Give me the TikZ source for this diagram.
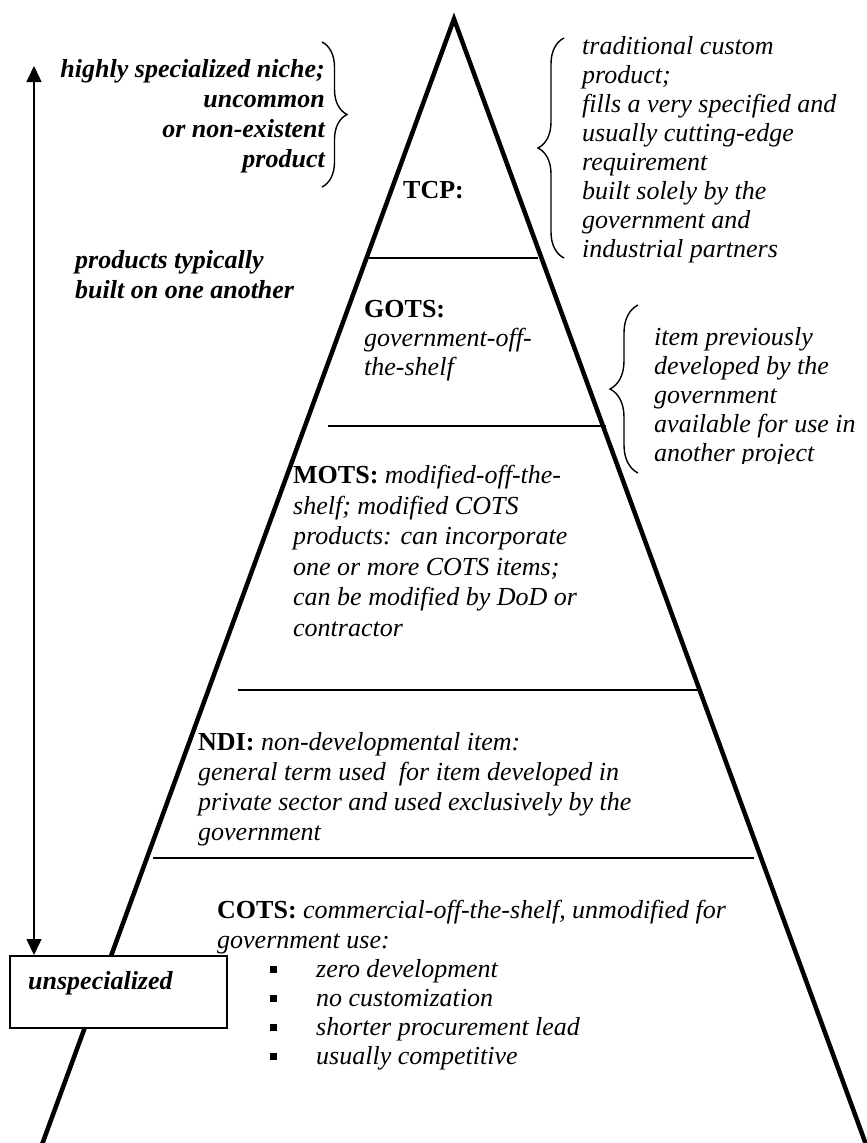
\documentclass[tikz,border=0pt]{standalone}
\usepackage{fontspec}
\setmainfont{Liberation Serif}
\usetikzlibrary{decorations.pathreplacing,arrows.meta}
\newcommand{\pyrlbl}[1]{{\normalfont\bfseries #1}}
\newcommand{\pyrbul}{\makebox[46.5pt][l]{\rule[4pt]{7pt}{7.5pt}}}
\begin{document}
\begin{tikzpicture}[x=1pt,y=-1pt,
  txt/.style={inner sep=0pt, align=left},
  tbi/.style={txt, font=\fontsize{26}{30}\selectfont\bfseries\itshape},
  ti/.style={txt, font=\fontsize{26}{#1}\selectfont\itshape},
  ti/.default=29,
  tb/.style={txt, font=\fontsize{26}{29}\selectfont\bfseries},
  pyr/.style={line width=4.5pt, line join=miter},
  divider/.style={line width=1.6pt},
  brc/.style={line width=1.4pt, decorate, decoration={brace, amplitude=#1}},
  arr/.style={line width=1.5pt, {Triangle[length=16pt,width=15pt]}-{Triangle[length=16pt,width=15pt]}},
  boxst/.style={draw, line width=1.5pt, fill=white, inner sep=0pt, anchor=north west}
]
\useasboundingbox (0,0) rectangle (867,1143);
\fill[white] (0,0) rectangle (867,1143);

% pyramid
\coordinate (apex) at (454,19);
\coordinate (bl) at (40,1150);
\coordinate (br) at (868,1150);
\draw[pyr] (bl) -- (apex) -- (br);

% dividers
\coordinate (d1l) at (369,258); \coordinate (d1r) at (538,258);
\coordinate (d2l) at (328,426); \coordinate (d2r) at (606,426);
\coordinate (d3l) at (238,690); \coordinate (d3r) at (702,690);
\coordinate (d4l) at (153,858); \coordinate (d4r) at (754,858);
\draw[divider] (d1l) -- (d1r);
\draw[divider] (d2l) -- (d2r);
\draw[divider] (d3l) -- (d3r);
\draw[divider] (d4l) -- (d4r);

% unspecialized box and arrow
\node[boxst, minimum width=217pt, minimum height=72pt] (unspec) at (9,955) {};
\node[tbi, anchor=base west] (unspectext) at (28,989) {unspecialized};
\coordinate (arrtop) at (34,66);
\draw[arr] (arrtop) -- (arrtop |- unspec.north);

% left texts (base anchor = baseline of last line)
\node[tbi, align=right, anchor=base east] (niche) at (325,167)
  {highly specialized niche;\\uncommon\\or non-existent\\product};
\coordinate (b1t) at (322,42); \coordinate (b1b) at (322,187);
\draw[brc=25pt] (b1t) -- (b1b);
\node[tbi, anchor=base west] (built) at (75,298)
  {products typically\\built on one another};

% TCP
\node[tb, anchor=base west] (tcp) at (403,198) {TCP:};
\coordinate (b2b) at (564,258); \coordinate (b2t) at (564,38);
\draw[brc=26pt] (b2b) -- (b2t);
\node[ti, anchor=base west] (tcpdesc) at (582,257)
  {traditional custom\\product;\\fills a very specified and\\usually cutting-edge\\requirement\\built solely by the\\government and\\industrial partners};

% GOTS
\node[tb, anchor=base west] (gots) at (364,375)
  {GOTS:\\\itshape\mdseries government-off-\\\itshape\mdseries the-shelf};
\coordinate (b3b) at (638,473); \coordinate (b3t) at (638,305);
\draw[brc=28pt] (b3b) -- (b3t);
\begin{scope}
  \clip (600,290) rectangle (867,463);
  \node[ti, anchor=base west] (gotsdesc) at (654,461)
    {item previously\\developed by the\\government\\available for use in\\another project};
\end{scope}

% MOTS
\node[ti=30.5, anchor=base west] (mots) at (293,636)
  {\pyrlbl{MOTS:} modified-off-the-\\shelf; modified COTS\\products: can incorporate\\one or more COTS items;\\can be modified by DoD or\\contractor};

% NDI
\node[ti=30, anchor=base west] (ndi) at (198,840)
  {\pyrlbl{NDI:} non-developmental item:\\general term used~ for item developed in\\private sector and used exclusively by the\\government};

% COTS
\node[ti=30, anchor=base west] (cots) at (217,948)
  {\pyrlbl{COTS:} commercial-off-the-shelf, unmodified for\\government use:};
\node[ti, anchor=base west] (bullets) at (269.5,1064)
  {\pyrbul zero development\\\pyrbul no customization\\\pyrbul shorter procurement lead\\\pyrbul usually competitive};
\end{tikzpicture}
\end{document}
